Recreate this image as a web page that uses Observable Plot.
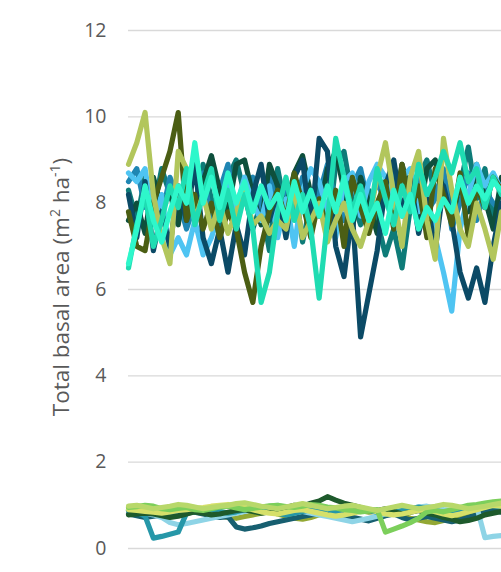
<!DOCTYPE html>
<html>
<head>
<meta charset="utf-8">
<script src="https://cdn.jsdelivr.net/npm/d3@7"></script>
<script src="https://cdn.jsdelivr.net/npm/@observablehq/plot@0.6"></script>
<style>
  html, body { margin: 0; padding: 0; background: #fff; }
  #chart { width: 501px; height: 572px; overflow: hidden; }
</style>
</head>
<body>
<div id="chart"></div>
<script>
// y-axis ticks
const yTicks = [0, 2, 4, 6, 8, 10, 12];

// upper group (total basal area ~8)
const lightOlive = [8.9,9.4,10.1,8.2,7.2,6.6,9.2,8.8,7.6,8.2,7.4,8.0,7.3,7.8,8.3,7.5,7.7,7.3,7.6,7.4,8.3,7.2,7.6,8.0,7.1,7.6,8.0,7.4,7.0,7.6,8.6,9.4,8.2,7.0,8.6,9.2,7.6,6.7,9.5,8.3,7.4,7.0,8.0,7.4,6.7,7.8];
const darkOlive = [7.8,7.0,6.9,8.0,8.6,9.2,10.1,7.6,8.2,7.4,8.0,7.2,7.8,7.4,6.4,5.7,7.0,7.8,8.3,7.6,8.7,8.0,7.2,8.1,7.4,8.3,7.0,8.6,7.9,7.3,8.0,8.5,7.4,8.9,7.8,8.4,7.2,8.8,8.2,7.5,8.7,7.2,8.4,7.9,8.6,8.3];
const navy = [8.2,7.2,8.5,6.9,7.8,7.0,8.4,7.6,8.9,7.2,6.6,7.4,6.4,7.5,6.8,8.2,8.9,7.6,8.3,7.2,8.6,9.0,7.4,9.5,9.2,7.0,6.3,7.8,4.9,5.9,6.9,8.4,9.0,7.8,8.6,7.3,8.1,6.9,8.4,7.6,6.4,5.8,6.5,5.7,7.0,8.0];
const aqua = [6.6,7.4,8.4,7.6,7.1,7.8,8.4,8.0,9.4,8.0,8.6,7.9,8.7,8.0,8.5,7.8,8.4,7.9,8.2,7.6,8.5,7.8,8.3,7.7,8.4,7.8,8.6,7.6,8.2,7.6,8.0,7.3,8.3,7.7,8.2,7.4,7.9,7.6,8.1,7.8,8.6,8.0,8.4,8.1,8.5,8.3];
const turquoise = [6.5,7.5,8.2,7.0,7.6,8.4,7.9,8.8,7.5,8.2,8.8,7.6,8.3,7.4,8.2,7.4,5.7,6.4,7.8,8.6,7.6,8.2,7.4,5.8,7.6,9.5,8.6,7.8,8.4,7.6,8.8,8.1,7.5,8.4,7.8,8.9,8.2,8.6,9.2,8.7,9.4,8.5,8.8,7.9,8.6,8.2];
const skyBlue = [8.7,8.5,8.8,7.5,8.2,6.8,7.2,6.8,7.6,6.8,7.2,7.8,8.5,7.9,8.6,8.0,7.6,8.4,7.2,8.1,7.0,8.3,8.8,8.5,7.8,7.2,8.5,8.7,7.7,8.5,8.9,8.6,7.9,8.6,8.8,7.8,8.3,7.2,6.4,5.5,7.4,8.2,8.9,8.4,8.7,8.3];
const teal = [8.3,7.6,8.6,7.8,8.8,8.2,7.6,8.4,7.8,8.9,8.1,7.5,8.6,9.0,8.2,7.4,8.0,6.9,8.8,7.8,8.5,7.1,8.0,8.4,7.2,8.9,9.2,8.1,7.5,8.3,7.6,6.8,7.4,6.5,7.9,8.6,9.0,8.2,8.7,7.9,8.4,9.3,8.1,8.8,7.6,8.4];
const darkGreen = [7.6,8.0,7.3,8.6,7.9,8.3,7.5,8.7,7.9,8.5,9.1,8.3,7.8,8.9,9.0,8.2,7.5,8.9,8.4,7.9,8.7,9.1,8.2,7.7,8.8,9.2,8.3,7.4,8.6,8.0,7.3,8.5,7.8,8.9,8.2,7.6,8.8,9.0,8.3,7.6,8.5,7.8,8.9,8.1,7.4,8.6];
const cerulean = [8.5,8.8,7.9,8.3,7.7,8.6,8.1,7.4,8.0,8.7,7.6,8.3,8.9,7.7,8.1,8.6,7.9,8.8,7.5,8.4,7.9,8.6,7.8,8.2,8.9,8.0,7.6,8.4,8.8,7.9,8.5,8.0,8.7,7.7,8.3,8.6,7.8,8.1,8.8,7.4,8.0,8.7,7.6,8.3,8.0,7.8];

// lower group (~0.8)
const lowGreen = [0.95,0.97,1.0,0.98,0.92,0.9,0.93,0.95,0.9,0.88,0.92,0.96,0.98,0.94,0.9,0.93,0.96,0.99,1.0,0.97,0.95,0.98,1.02,1.0,0.96,0.94,0.9,0.88,0.85,0.87,0.9,0.38,0.45,0.52,0.6,0.7,0.85,0.88,0.85,0.9,0.95,1.0,1.02,1.05,1.08,1.1];
const lowYellow = [0.9,0.88,0.86,0.84,0.82,0.85,0.88,0.9,0.93,0.95,0.98,1.0,1.02,0.98,0.95,0.9,0.85,0.82,0.8,0.84,0.88,0.9,0.86,0.82,0.78,0.75,0.78,0.82,0.86,0.9,0.85,0.8,0.78,0.8,0.84,0.88,0.9,0.85,0.8,0.76,0.8,0.85,0.9,0.95,1.0,0.98];
const lowDarkGreen = [0.78,0.8,0.82,0.8,0.76,0.72,0.75,0.8,0.85,0.82,0.78,0.8,0.84,0.88,0.9,0.86,0.82,0.85,0.9,0.95,1.0,0.98,1.05,1.1,1.2,1.12,1.05,1.0,0.95,0.9,0.88,0.92,0.86,0.8,0.84,0.88,0.82,0.78,0.72,0.68,0.62,0.65,0.7,0.78,0.82,0.86];
const lowOlive = [0.88,0.85,0.8,0.78,0.82,0.86,0.9,0.92,0.88,0.84,0.8,0.76,0.72,0.7,0.74,0.78,0.82,0.86,0.8,0.75,0.7,0.68,0.72,0.78,0.84,0.9,0.95,0.92,0.88,0.84,0.86,0.9,0.82,0.76,0.7,0.66,0.62,0.6,0.65,0.7,0.76,0.82,0.88,0.92,0.95,0.9];
const lowLightBlue = [0.9,0.86,0.82,0.78,0.72,0.6,0.55,0.58,0.62,0.66,0.7,0.74,0.78,0.82,0.86,0.9,0.94,0.98,1.0,0.95,0.9,0.86,0.82,0.78,0.74,0.7,0.66,0.62,0.66,0.7,0.75,0.8,0.84,0.88,0.92,0.96,0.98,0.94,0.9,0.88,0.92,0.96,0.98,0.25,0.28,0.3];
const lowTeal = [0.88,0.84,0.75,0.24,0.28,0.33,0.38,0.82,0.85,0.88,0.9,0.86,0.82,0.85,0.9,0.94,0.9,0.86,0.82,0.78,0.82,0.86,0.9,0.94,0.9,0.86,0.82,0.86,0.9,0.88,0.84,0.8,0.84,0.88,0.92,0.96,0.92,0.88,0.84,0.8,0.84,0.88,0.92,0.96,1.0,0.95];
const lowDarkTeal = [0.8,0.76,0.72,0.75,0.78,0.82,0.85,0.88,0.84,0.8,0.76,0.72,0.74,0.5,0.45,0.48,0.52,0.58,0.62,0.66,0.7,0.74,0.78,0.82,0.86,0.8,0.76,0.72,0.68,0.64,0.7,0.76,0.8,0.72,0.66,0.7,0.74,0.7,0.66,0.62,0.66,0.72,0.78,0.84,0.88,0.84];
const lowLime = [0.98,1.0,0.96,0.92,0.95,0.98,1.02,1.0,0.96,0.92,0.95,0.98,1.0,1.04,1.06,1.02,0.98,0.95,0.92,0.96,1.0,1.04,1.0,0.96,0.92,0.95,0.98,1.0,0.96,0.92,0.88,0.92,0.96,1.0,0.96,0.92,0.95,0.98,1.02,1.0,0.96,0.92,0.95,0.98,1.02,1.05];

// series in drawing order with colours
const seriesNames = ["lowOlive","lowDarkTeal","lowLightBlue","lowTeal","lowDarkGreen","lowYellow","lowGreen","lowLime",
  "teal","cerulean","darkGreen","skyBlue","navy","darkOlive","lightOlive","turquoise","aqua"];
const seriesValues = [lowOlive,lowDarkTeal,lowLightBlue,lowTeal,lowDarkGreen,lowYellow,lowGreen,lowLime,
  teal,cerulean,darkGreen,skyBlue,navy,darkOlive,lightOlive,turquoise,aqua];
const seriesColors = ["#93a834","#175f70","#8ed4e6","#2697a8","#1e5a2c","#d6e06a","#7ccf5b","#b8d86a",
  "#0e7b78","#1f86b3","#0e4f3c","#4fc4f2","#0b4a66","#4b5e14","#b2c65c","#1fdcb2","#2ef7cb"];

const rows = [];
seriesNames.forEach((name, s) => {
  seriesValues[s].forEach((v, i) => rows.push({series: name, i, v}));
});

const plot = Plot.plot({
  width: 501,
  height: 572,
  marginLeft: 128,
  marginRight: 0,
  marginTop: 30,
  marginBottom: 24,
  style: {fontFamily: "'Open Sans', sans-serif", background: "#fff"},
  x: {domain: [0, 45], axis: null},
  y: {domain: [0, 12], ticks: yTicks, label: null, tickSize: 0, tickPadding: 22},
  color: {domain: seriesNames, range: seriesColors},
  marks: [
    Plot.gridY(yTicks, {stroke: "#d9d9d9", strokeOpacity: 1, strokeWidth: 1.3}),
    Plot.axisY(yTicks, {tickSize: 0, tickPadding: 22, fontSize: 19.5, fill: "#595959", label: null, fontFamily: "'Open Sans', sans-serif"}),
    Plot.lineY(rows, {x: "i", y: "v", z: "series", stroke: "series", strokeWidth: 5.2, strokeLinejoin: "round", strokeLinecap: "round"})
  ]
});
document.getElementById("chart").appendChild(plot);

// y-axis title with superscripts
const svg = d3.select(plot);
const t = svg.append("text")
  .attr("transform", "translate(69,287) rotate(-90)")
  .attr("text-anchor", "middle")
  .attr("fill", "#595959")
  .attr("font-family", "'Open Sans', sans-serif")
  .attr("font-size", 22.5);
t.append("tspan").text("Total basal area (m");
t.append("tspan").attr("baseline-shift", "super").attr("font-size", 14).text("2");
t.append("tspan").text(" ha");
t.append("tspan").attr("baseline-shift", "super").attr("font-size", 14).text("-1");
t.append("tspan").text(")");
</script>
</body>
</html>
